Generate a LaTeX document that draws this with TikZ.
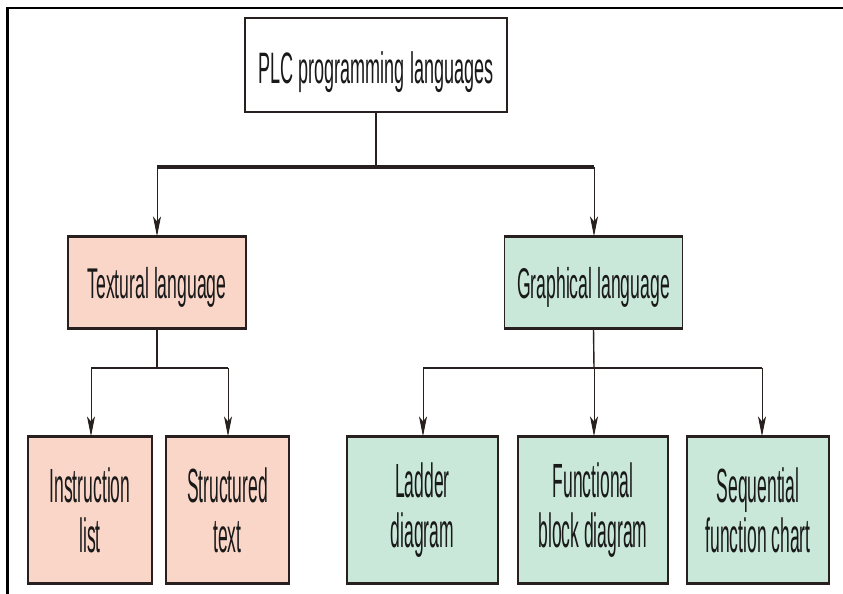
\documentclass[tikz,border=0pt]{standalone}
\usepackage{fontspec}
\usetikzlibrary{arrows.meta}
\newfontfamily\condfont[FakeStretch=0.41]{Liberation Sans}
\newfontfamily\condfontb[FakeStretch=0.365]{Liberation Sans}
\definecolor{pinkbox}{RGB}{250,214,200}
\definecolor{greenbox}{RGB}{201,232,218}
\definecolor{edgecol}{RGB}{40,32,30}
\tikzset{
  box/.style={draw=edgecol, line width=1.2pt, inner sep=0pt, align=center, text=black!90},
  topbox/.style={box, fill=white, line width=2pt, minimum width=262pt, minimum height=94pt, text height=47pt, text depth=9pt, font=\condfont\fontsize{44}{50}\selectfont},
  midbox/.style={box, minimum width=178pt, minimum height=91pt, text height=41pt, text depth=9pt, font=\condfont\fontsize{43}{50}\selectfont},
  lowbox/.style={box, minimum height=146pt, execute at begin node={\rule{0pt}{43pt}}, font=\condfontb\fontsize{48}{50}\selectfont},
  pinkfill/.style={fill=pinkbox},
  greenfill/.style={fill=greenbox},
  edgeline/.style={draw=edgecol, line width=3pt},
  conn/.style={draw=edgecol, line width=1.4pt},
  thickbar/.style={draw=edgecol, line width=4.5pt},
  arr/.style={draw=edgecol, line width=1pt, -{Stealth[length=20pt,width=8pt,inset=5pt]}},
  frame/.style={draw=black, line width=2.5pt}
}
\begin{document}
\begin{tikzpicture}[x=1pt,y=-1pt]
\useasboundingbox (0,0) rectangle (843,594);
\draw[frame] (843,8) -- (7.5,8) -- (7.5,594);

\node[topbox] (top) at (376,65) {PLC programming languages};
\node[midbox,pinkfill] (tex) at (157,282.5) {Textural language};
\node[midbox,greenfill] (gra) at (593.5,282.5) {Graphical language};

\node[lowbox,pinkfill,minimum width=124pt] (il) at (90,510) {Instruction\\list};
\node[lowbox,pinkfill,minimum width=123pt] (st) at (227.5,510) {Structured\\text};
\node[lowbox,greenfill,minimum width=151pt] (ld) at (422.5,510) {Ladder\\diagram};
\node[lowbox,greenfill,minimum width=150pt] (fb) at (593,510) {Functional\\block diagram};
\node[lowbox,greenfill,minimum width=142pt] (sf) at (758,510) {Sequential\\function chart};

% thick top and bottom edges of coloured boxes
\foreach \n in {tex,gra,il,st,ld,fb,sf}{
  \draw[edgeline] (\n.north west) -- (\n.north east);
  \draw[edgeline] (\n.south west) -- (\n.south east);
}

% top level connectors
\coordinate (j0) at (376,167);
\coordinate (b0l) at (157,167);
\coordinate (b0r) at (594,167);
\draw[conn] (top.south) -- (j0);
\draw[thickbar] (b0l) -- (b0r);
\draw[arr] (b0l) -- (b0l |- tex.north);
\draw[arr] (b0r) -- (b0r |- gra.north);

% textural branch
\coordinate (j1) at (157,368);
\coordinate (b1l) at (91,368);
\coordinate (b1r) at (228,368);
\draw[conn] (tex.south) -- (j1);
\draw[conn] (b1l) -- (b1r);
\draw[arr] (b1l) -- (b1l |- il.north);
\draw[arr] (b1r) -- (b1r |- st.north);

% graphical branch
\coordinate (j2) at (594,368);
\coordinate (b2l) at (423,368);
\coordinate (b2r) at (762,368);
\draw[conn] (gra.south) -- (j2);
\draw[conn] (b2l) -- (b2r);
\draw[arr] (b2l) -- (b2l |- ld.north);
\draw[arr] (j2) -- (j2 |- fb.north);
\draw[arr] (b2r) -- (b2r |- sf.north);
\end{tikzpicture}
\end{document}
